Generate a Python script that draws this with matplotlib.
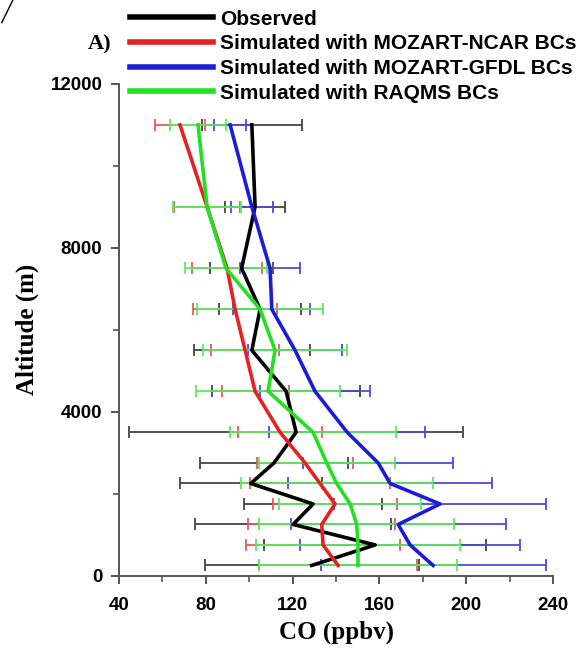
import matplotlib
matplotlib.use("Agg")
import matplotlib.pyplot as plt
from matplotlib.lines import Line2D
from matplotlib.ticker import MultipleLocator

# Altitude bins (m)
altitude = [250, 750, 1250, 1750, 2250, 2750, 3500, 4500, 5500, 6500, 7500, 9000, 11000]

# CO (ppbv) mean and spread for each profile
observed = [128.8, 158.0, 120.2, 129.4, 100.7, 111.4, 121.6, 117.0, 101.2, 105.0, 96.5, 102.7, 101.2]
observed_err = [49.2, 51.2, 45.2, 31.8, 32.7, 34.1, 77.0, 34.1, 26.7, 18.9, 14.5, 13.8, 23.0]

ncar = [140.9, 134.0, 133.4, 139.5, 132.6, 125.7, 114.2, 102.7, 98.1, 93.5, 89.8, 80.6, 68.1]
ncar_err = [36.4, 35.3, 33.8, 28.6, 32.3, 21.9, 19.4, 15.4, 15.7, 19.4, 16.1, 15.2, 11.5]

gfdl = [184.7, 174.1, 168.6, 187.9, 164.9, 159.4, 145.1, 130.3, 121.1, 110.4, 109.6, 101.2, 91.2]
gfdl_err = [51.8, 50.7, 49.5, 48.8, 46.9, 34.6, 35.9, 25.3, 21.7, 17.7, 13.8, 9.7, 7.4]

raqms = [150.1, 150.1, 149.5, 146.5, 140.3, 135.7, 129.4, 108.7, 111.9, 105.0, 89.3, 80.6, 76.4]
raqms_err = [45.6, 46.9, 44.9, 32.7, 44.2, 31.3, 38.2, 33.2, 33.2, 29.0, 18.9, 15.7, 12.9]

labels = ["Observed",
          "Simulated with MOZART-NCAR BCs",
          "Simulated with MOZART-GFDL BCs",
          "Simulated with RAQMS BCs"]

line_colors = ["#000000", "#e52222", "#1c1cd6", "#22e022"]
bar_colors = ["#444444", "#e85a5a", "#4a4ae0", "#5cea5c"]

fig = plt.figure(figsize=(5.86, 6.48), dpi=100)
ax = fig.add_axes([0.203, 0.1116, 0.741, 0.759])

series = [(observed, observed_err), (ncar, ncar_err), (gfdl, gfdl_err), (raqms, raqms_err)]

# error bars first, green on top
for (vals, err), c in zip(series, bar_colors):
    ax.errorbar(vals, altitude, xerr=err, fmt="none", ecolor=c,
                elinewidth=1.3, capsize=4, capthick=1.3)

handles = []
for (vals, err), c, lab in zip(series, line_colors, labels):
    h, = ax.plot(vals, altitude, color=c, lw=2.6, label=lab)
    handles.append(h)

ax.set_xlim(40, 240)
ax.set_ylim(0, 12000)
ax.xaxis.set_major_locator(MultipleLocator(40))
ax.xaxis.set_minor_locator(MultipleLocator(20))
ax.yaxis.set_major_locator(MultipleLocator(4000))
ax.yaxis.set_minor_locator(MultipleLocator(2000))

for s in ["top", "right"]:
    ax.spines[s].set_visible(False)
for s in ["left", "bottom"]:
    ax.spines[s].set_color("#555555")
    ax.spines[s].set_linewidth(1.4)

ax.tick_params(which="major", direction="out", length=6, width=1.4, color="#555555",
               labelsize=13.5, pad=6)
ax.tick_params(axis="x", which="major", pad=9)
ax.tick_params(which="minor", direction="out", length=4, width=1.2, color="#555555")
for t in ax.get_xticklabels() + ax.get_yticklabels():
    t.set_fontfamily("Liberation Sans")
    t.set_fontweight("bold")

ax.set_xlabel("CO (ppbv)", fontfamily="Liberation Serif", fontweight="bold",
              fontsize=18, labelpad=5)
ax.set_ylabel("Altitude (m)", fontfamily="Liberation Serif", fontweight="bold",
              fontsize=18, labelpad=8)

fig.legend(handles=handles, loc="upper left", bbox_to_anchor=(0.222, 0.985),
           frameon=False, borderpad=0, handlelength=4.0, handletextpad=0.33,
           labelspacing=0.27, borderaxespad=0,
           prop={"family": "Liberation Sans", "weight": "bold", "size": 15})
for h in fig.legends[0].get_lines():
    h.set_linewidth(4)

fig.text(100 / 586, 1 - 44 / 648, "A)", fontfamily="Liberation Serif",
         fontweight="bold", fontsize=16, ha="center", va="center")
fig.add_artist(Line2D([0.003, 0.022], [0.965, 1.0], color="black", lw=1))

fig.savefig("out.png", dpi=100)
